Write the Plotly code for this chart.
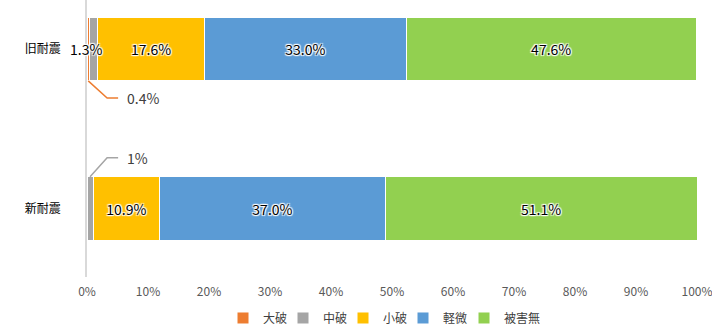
import plotly.graph_objects as go

categories = ['旧耐震', '新耐震']
series_names = ['大破', '中破', '小破', '軽微', '被害無']
daiha = [0.4, 0.0]
chuha = [1.3, 1.0]
shoha = [17.6, 10.9]
keibi = [33.0, 37.0]
higainashi = [47.6, 51.1]
x_ticks = [0, 10, 20, 30, 40, 50, 60, 70, 80, 90, 100]

colors = ['#ED7D31', '#A5A5A5', '#FFC000', '#5B9BD5', '#92D050']
FONT = 'Noto Sans CJK JP, Meiryo, sans-serif'
SHADOW = '1px 1px 1px white, -1px -1px 1px white, 1px -1px 1px white, -1px 1px 1px white, 0 0 2px white'

PLOT_L, PLOT_W = 87, 610
legend_px = [223, 283, 343, 403, 464]  # left edge of each legend entry (pixels)

fig = go.Figure()
legend_layout = {}
for i, (name, vals, col) in enumerate(zip(series_names, [daiha, chuha, shoha, keibi, higainashi], colors)):
    texts = [f'{v:.1f}%' if v >= 5 else '' for v in vals]
    lg = 'legend' if i == 0 else f'legend{i+1}'
    fig.add_trace(go.Bar(
        name=name, y=categories, x=vals, orientation='h', width=0.4,
        marker=dict(color=col, line=dict(color='white', width=1)),
        text=texts, textposition='inside', insidetextanchor='middle',
        textangle=0, constraintext='none',
        textfont=dict(family=FONT, size=14, color='#000000', shadow=SHADOW),
        hoverinfo='skip', legend=lg,
    ))
    legend_layout[lg] = dict(orientation='h', x=(legend_px[i] - PLOT_L) / PLOT_W, xanchor='left',
                             y=-0.148, yanchor='middle', itemwidth=30,
                             font=dict(size=12, color='#404040'), bgcolor='rgba(0,0,0,0)')

# outside labels
annotations = [
    dict(x=daiha[0] + chuha[0] / 2, y=categories[0], xref='x', yref='y', text=f'{chuha[0]:.1f}%',
         showarrow=False, xshift=-7, font=dict(family=FONT, size=14, color='#000000', shadow=SHADOW)),
    dict(x=6.2, y=0.693, xref='x', yref='y', text=f'{daiha[0]:.1f}%', showarrow=False, xanchor='left',
         font=dict(family=FONT, size=14, color='#404040')),
    dict(x=6.2, y=0.319, xref='x', yref='y', text=f'{chuha[1]:.0f}%', showarrow=False, xanchor='left',
         font=dict(family=FONT, size=14, color='#404040')),
]
# y index: 新耐震 = 0, 旧耐震 = 1
shapes = [
    dict(type='path', xref='x', yref='y',
         path=f'M {daiha[0]/2},0.8 L 3.3,0.693 L 5.1,0.693',
         line=dict(color='#ED7D31', width=1.5)),
    dict(type='path', xref='x', yref='y',
         path=f'M {chuha[1]/2},0.2 L 3.3,0.319 L 5.1,0.319',
         line=dict(color='#A5A5A5', width=1.5)),
    dict(type='path', xref='x', yref='y',
         path='M -0.6,0.03 L -0.6,-0.03 L -0.3,-0.03',
         line=dict(color='#595959', width=1)),
]

fig.update_layout(
    barmode='stack',
    width=712, height=333,
    margin=dict(l=PLOT_L, r=15, t=0, b=50),
    paper_bgcolor='white', plot_bgcolor='white',
    font=dict(family=FONT, size=12, color='#404040'),
    xaxis=dict(range=[0, 100], tickvals=x_ticks, ticktext=[f'{t}%' for t in x_ticks],
               showgrid=False, zeroline=False, showline=False,
               ticklabelstandoff=6, ticklabeloverflow='allow',
               tickfont=dict(size=12, color='#595959')),
    yaxis=dict(categoryorder='array', categoryarray=['新耐震', '旧耐震'],
               range=[-0.429, 1.307], showgrid=False, zeroline=False,
               showline=True, linecolor='#D9D9D9', linewidth=1.5,
               ticklabelstandoff=22, tickfont=dict(size=12, color='#000000')),
    annotations=annotations,
    shapes=shapes,
    showlegend=True,
    **legend_layout,
)

fig.write_html('out.html')
